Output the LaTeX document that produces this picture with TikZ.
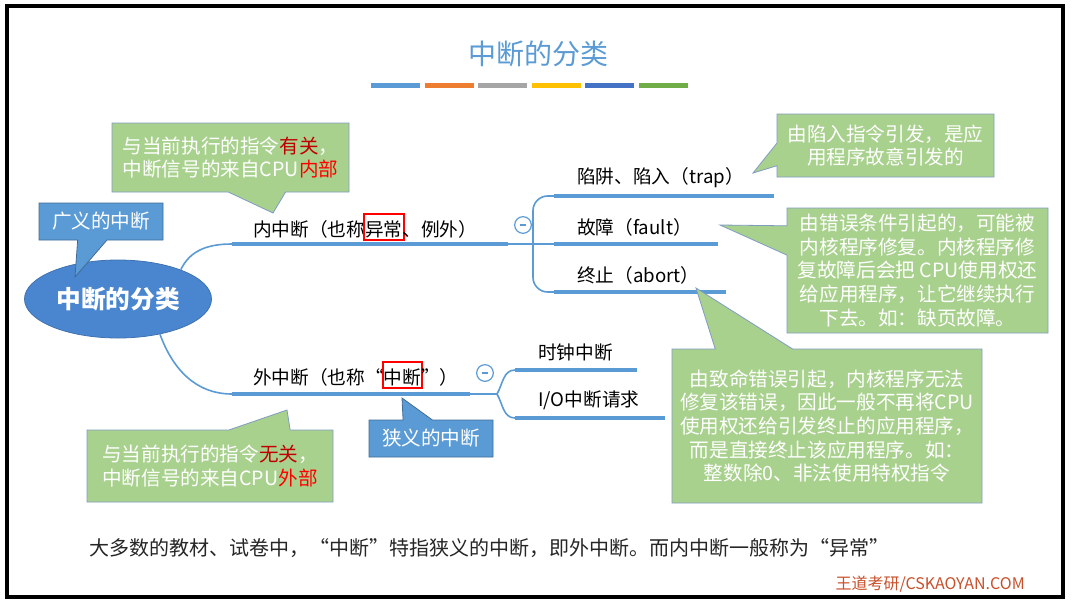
\documentclass[tikz,border=0pt]{standalone}
\usepackage{fontspec}
\setmainfont{Noto Sans CJK SC}
\usepackage{tikz}
\usetikzlibrary{shapes.geometric, shapes.callouts, positioning}
\definecolor{mapblue}{HTML}{5B9BD5}
\definecolor{rootblue}{HTML}{4A86CF}
\definecolor{notegreen}{HTML}{A9D18E}
\definecolor{noteedge}{HTML}{7F9CC0}
\definecolor{darkred}{HTML}{C00000}
\definecolor{brandorange}{HTML}{C8502A}
\definecolor{barblue}{HTML}{5B9BD5}
\definecolor{barorange}{HTML}{ED7D31}
\definecolor{bargray}{HTML}{A5A5A5}
\definecolor{baryellow}{HTML}{FFC000}
\definecolor{bardeep}{HTML}{4472C4}
\definecolor{bargreen}{HTML}{70AD47}
\newcommand\redmark[1]{\makebox[0pt][l]{\kern-1.5pt\raisebox{-1.5pt}{\color{red}\fboxsep=0pt\fboxrule=1.5pt\fbox{\vrule height 17.5pt width 0pt\hphantom{#1}}}}#1}

\begin{document}
\begin{tikzpicture}[
    x=0.75pt, y=-0.75pt,
    root/.style={
        ellipse, fill=rootblue, draw=rootblue!85!black, line width=0.6pt,
        minimum width=133.5pt, minimum height=58.5pt, text=white,
        font=\fontsize{18.5}{22}\selectfont\bfseries
    },
    note/.style={
        rectangle callout, fill=notegreen, draw=noteedge, line width=0.6pt,
        text=white, align=center, inner sep=0pt,
        font=\fontsize{14.7}{17.8}\selectfont
    },
    bluenote/.style={
        rectangle callout, fill=mapblue, draw=mapblue!70!black, line width=0.6pt,
        text=white, inner sep=0pt, minimum width=93pt, minimum height=27.75pt,
        callout pointer width=22pt, font=\fontsize{14.7}{17.8}\selectfont
    },
    lbl/.style={anchor=west, inner sep=0pt, font=\fontsize{14}{16}\selectfont},
    ul/.style={draw=mapblue, line width=3pt},
    branch/.style={draw=mapblue, line width=1.2pt},
    fold/.style={circle, draw=mapblue, fill=white, line width=0.9pt,
                 minimum size=12.5pt, inner sep=0pt}
]
\useasboundingbox (0,0) rectangle (1073,604);
\fill[white] (0,0) rectangle (1073,604);
\draw[line width=2.4pt] (7,6) rectangle (1063,597);

\node[text=mapblue, font=\fontsize{21}{25}\selectfont] (title) at (538,54) {中断的分类};
\foreach \c [count=\i from 0] in {barblue, barorange, bargray, baryellow, bardeep, bargreen}
    \fill[\c] ({371+\i*53.6},83) rectangle ++(49,5);

\node[root] (root) at (118,299) {中断的分类};

\coordinate (inA) at (232,244);
\coordinate (inB) at (508,244);
\coordinate (inJ) at (533,244);
\coordinate (trapA) at (554,196);
\coordinate (trapB) at (774,196);
\coordinate (faultA) at (554,244);
\coordinate (faultB) at (718,244);
\coordinate (abortA) at (554,292);
\coordinate (abortB) at (726,292);
\coordinate (outA) at (232,394);
\coordinate (outB) at (470,394);
\coordinate (outJ) at (497,394);
\coordinate (clockA) at (515,370);
\coordinate (clockB) at (637,370);
\coordinate (ioA) at (515,418);
\coordinate (ioB) at (665,418);

\draw[branch] (root.25) to[out=65, in=180] (inA);
\draw[branch] (root.-40) to[out=-70, in=180] (outA);
\draw[ul] (inA) -- (inB);
\draw[ul] (outA) -- (outB);
\draw[branch] (inB) -- (faultA);
\draw[branch, rounded corners=11pt] (inJ) |- (trapA);
\draw[branch, rounded corners=11pt] (inJ) |- (abortA);
\draw[branch] (outB) -- (outJ);
\draw[branch] (outJ) to[out=60, in=180] (clockA);
\draw[branch] (outJ) to[out=-60, in=180] (ioA);
\draw[ul] (trapA) -- (trapB);
\draw[ul] (faultA) -- (faultB);
\draw[ul] (abortA) -- (abortB);
\draw[ul] (clockA) -- (clockB);
\draw[ul] (ioA) -- (ioB);

\node[fold] (inFold) at (523,225) {\textcolor{mapblue}{\rule{5pt}{0.9pt}}};
\node[fold] (outFold) at (485,373) {\textcolor{mapblue}{\rule{5pt}{0.9pt}}};

\node[lbl] (inner) at (253,227) {内中断（也称\redmark{异常}、例外）};
\node[lbl] (outer) at (253,375) {外中断（也称“\redmark{中断}”）};
\node[lbl] (trap) at (577,178) {陷阱、陷入（trap）};
\node[lbl] (fault) at (577,227) {故障（fault）};
\node[lbl] (abort) at (577,275) {终止（abort）};
\node[lbl] (clock) at (538,352) {时钟中断};
\node[lbl] (io) at (538,400) {I/O中断请求};

\node[bluenote, callout absolute pointer={(75,277)}] (wide) at (101,221.5) {广义的中断};
\node[bluenote, callout absolute pointer={(402,398)}] (narrow) at (431,438.5) {狭义的中断};

\node[note, minimum width=177.75pt, minimum height=51.75pt,
      callout absolute pointer={(273,213)}, callout pointer width=43pt] (innerNote) at (230.5,157.5)
    {与当前执行的指令\textcolor{darkred}{有关}，\\中断信号的来自CPU\textcolor{red}{内部}};
\node[note, minimum width=184.5pt, minimum height=54pt,
      callout absolute pointer={(287,410)}, callout pointer width=46pt] (outerNote) at (210,466)
    {与当前执行的指令\textcolor{darkred}{无关}，\\中断信号的来自CPU\textcolor{red}{外部}};
\node[note, minimum width=162.75pt, minimum height=47.25pt,
      callout absolute pointer={(753,173)}, callout pointer width=17pt] (trapNote) at (885.5,145.5)
    {由陷入指令引发，是应\\用程序故意引发的};
\node[note, minimum width=195.75pt, minimum height=93.75pt,
      callout absolute pointer={(720,225)}, callout pointer width=22pt] (faultNote) at (917.5,270.5)
    {由错误条件引起的，可能被\\内核程序修复。内核程序修\\复故障后会把 CPU使用权还\\给应用程序，让它继续执行\\下去。如：缺页故障。};
\node[note, minimum width=232.5pt, minimum height=115.5pt,
      callout absolute pointer={(696,288)}, callout pointer width=58pt] (abortNote) at (827,426)
    {由致命错误引起，内核程序无法\\修复该错误，因此一般不再将CPU\\使用权还给引发终止的应用程序，\\而是直接终止该应用程序。如：\\整数除0、非法使用特权指令};

\node[anchor=west, inner sep=0pt, text=black!85, font=\fontsize{15}{18}\selectfont] (summary) at (89,548)
    {大多数的教材、试卷中，“中断”特指狭义的中断，即外中断。而内中断一般称为“异常”};
\node[anchor=east, inner sep=0pt, text=brandorange, font=\fontsize{12}{14}\selectfont] (brand) at (1025,584)
    {王道考研/CSKAOYAN.COM};
\end{tikzpicture}
\end{document}
